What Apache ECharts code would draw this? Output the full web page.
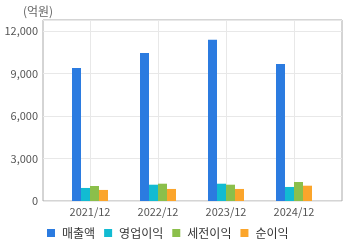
<!DOCTYPE html>
<html>
<head>
<meta charset="utf-8">
<script src="https://cdn.jsdelivr.net/npm/echarts@6/dist/echarts.min.js"></script>
<style>
  html, body { margin: 0; padding: 0; background: #fff; }
  #chart { width: 360px; height: 248px; }
</style>
</head>
<body>
<div id="chart"></div>
<script>
// categories / series (억원)
var categories = ['2021/12', '2022/12', '2023/12', '2024/12'];
var seriesNames = ['매출액', '영업이익', '세전이익', '순이익'];
var revenue = [9390, 10450, 11370, 9670];
var operatingProfit = [920, 1150, 1220, 990];
var pretaxProfit = [1060, 1220, 1150, 1340];
var netProfit = [780, 850, 850, 1080];
var yTicks = [0, 3000, 6000, 9000, 12000];

var colors = ['#2b7be0', '#12bbd2', '#8bbf4b', '#fba52b'];
var font = '"Noto Sans CJK KR", "DejaVu Sans", sans-serif';
var yMax = 12770;

var chart = echarts.init(document.getElementById('chart'), null, { renderer: 'canvas' });

var barSeries = [revenue, operatingProfit, pretaxProfit, netProfit].map(function (d, i) {
  return {
    name: seriesNames[i],
    type: 'bar',
    xAxisIndex: 1,
    yAxisIndex: 1,
    barWidth: 9,
    barGap: '0%',
    itemStyle: { color: colors[i] },
    data: d
  }
})

chart.setOption({
  animation: false,
  color: colors,
  // frame grid + bar grid
  grid: [
    { left: 43, right: 18, top: 20, bottom: 47, show: true, borderColor: '#aaa', borderWidth: 1, backgroundColor: 'transparent' },
    { left: 56, right: 32, top: 20, bottom: 47 }
  ],
  xAxis: [
    { gridIndex: 0, type: 'value', show: false, min: 0, max: 1 },
    {
      gridIndex: 1,
      type: 'category',
      data: categories,
      axisLine: { show: false },
      axisTick: { show: false },
      axisLabel: { color: '#555', fontSize: 11, fontFamily: font, margin: 5 },
      splitLine: { show: true, alignWithLabel: true, lineStyle: { color: '#e8e8e8' } }
    }
  ],
  yAxis: [
    {
      gridIndex: 0,
      type: 'value',
      min: yTicks[0],
      max: yMax,
      interval: yTicks[1] - yTicks[0],
      name: '(억원)',
      nameLocation: 'end',
      nameGap: 3,
      nameTextStyle: { color: '#666', fontSize: 12, fontFamily: font, padding: [0, 10, 0, 0] },
      axisLine: { show: false },
      axisTick: { show: false },
      axisLabel: { color: '#555', fontSize: 11, fontFamily: font, margin: 5, showMaxLabel: false },
      splitLine: { lineStyle: { color: '#e8e8e8' } }
    },
    { gridIndex: 1, type: 'value', min: yTicks[0], max: yMax, show: false }
  ],
  legend: {
    left: 42,
    bottom: 4,
    icon: 'rect',
    itemWidth: 8,
    itemHeight: 8,
    itemGap: 9,
    textStyle: { color: '#333', fontSize: 12, fontFamily: font, padding: [0, 0, 0, 2] },
    data: seriesNames
  },
  series: barSeries
})
</script>
</body>
</html>
